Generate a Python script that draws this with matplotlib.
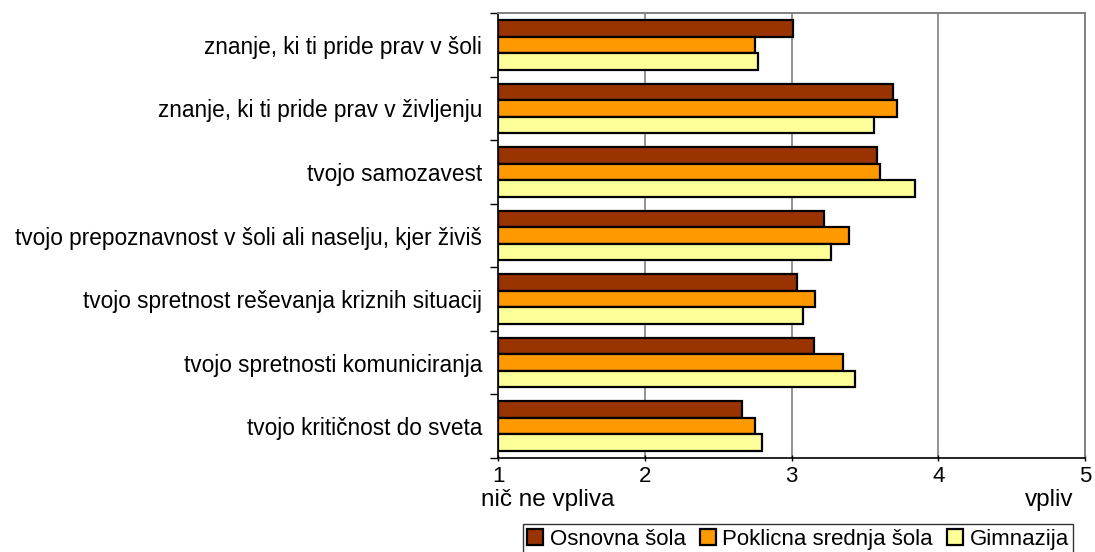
import numpy as np
import matplotlib.pyplot as plt

plt.rcParams['font.family'] = ['Liberation Sans', 'DejaVu Sans']

# survey items, listed top to bottom
items = [
    "znanje, ki ti pride prav v šoli",
    "znanje, ki ti pride prav v življenju",
    "tvojo samozavest",
    "tvojo prepoznavnost v šoli ali naselju, kjer živiš",
    "tvojo spretnost reševanja kriznih situacij",
    "tvojo spretnosti komuniciranja",
    "tvojo kritičnost do sveta",
]
osnovna = [3.01, 3.69, 3.58, 3.22, 3.04, 3.15, 2.66]
poklicna = [2.75, 3.72, 3.60, 3.39, 3.16, 3.35, 2.75]
gimnazija = [2.77, 3.56, 3.84, 3.27, 3.08, 3.43, 2.80]
series_names = ["Osnovna šola", "Poklicna srednja šola", "Gimnazija"]
series_colors = ["#993300", "#FF9900", "#FFFF99"]
xticks = [1, 2, 3, 4, 5]

fig = plt.figure(figsize=(10.95, 5.52), dpi=100)
ax = fig.add_axes([498 / 1095, 1 - 458 / 552, 587 / 1095, 445 / 552])

n = len(items)
pos = np.arange(n)[::-1]          # first item at the top
bh = 0.26
for k, (vals, col) in enumerate(zip([osnovna, poklicna, gimnazija], series_colors)):
    y = pos + (1 - k) * bh
    ax.barh(y, np.array(vals) - 1, left=1, height=bh, color=col,
            edgecolor="black", linewidth=1.6, label=series_names[k], zorder=3)

ax.set_xlim(1, 5)
ax.set_ylim(-0.5, n - 0.5)

# category boundaries as y ticks, names placed between them
ax.set_yticks(np.arange(n + 1) - 0.5)
ax.set_yticklabels([])
ax.set_yticks(pos, minor=True)
ax.set_yticklabels(items, minor=True, fontsize=16.3)
ax.tick_params(axis="y", which="minor", length=0, pad=11.5)
ax.tick_params(axis="y", which="major", length=6, width=1, direction="out")

ax.set_xticks(xticks)
ax.set_xticklabels([str(t) for t in xticks], fontsize=16)
ax.tick_params(axis="x", length=5, width=1, direction="inout", pad=3)

for xv in xticks[1:-1]:
    ax.axvline(xv, color="#808080", linewidth=1.2, zorder=1)

for side in ["top", "right"]:
    ax.spines[side].set_color("#808080")
    ax.spines[side].set_linewidth(1.4)
for side in ["left", "bottom"]:
    ax.spines[side].set_color("black")
    ax.spines[side].set_linewidth(1.2)

fig.text(481 / 1095, 1 - 500 / 552, "nič ne vpliva", fontsize=17.5,
         va="center", ha="left")
fig.text(1073 / 1095, 1 - 500 / 552, "vpliv", fontsize=17.5,
         va="center", ha="right")

leg = fig.legend(loc="lower center", bbox_to_anchor=(798 / 1095, -0.004), ncol=3,
                 fontsize=16, frameon=True, fancybox=False, edgecolor="black",
                 handlelength=0.7, handleheight=0.7, handletextpad=0.3,
                 columnspacing=0.65, borderpad=0.2, borderaxespad=0)
leg.get_frame().set_linewidth(1.0)

fig.savefig("out.png", dpi=100)
